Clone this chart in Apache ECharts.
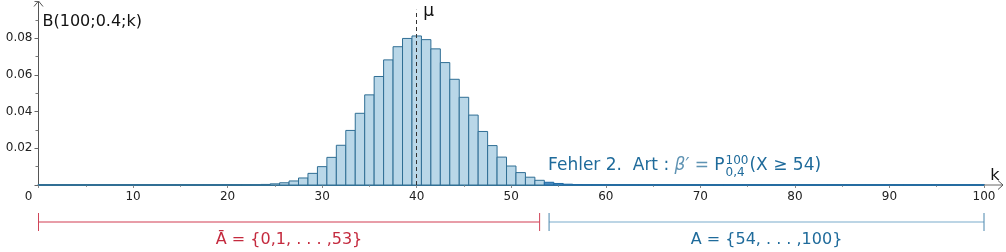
<!DOCTYPE html>
<html>
<head>
<meta charset="utf-8">
<script src="https://cdn.jsdelivr.net/npm/echarts@6/dist/echarts.min.js"></script>
<style>
html,body{margin:0;padding:0;background:#fff;}
#c{width:1006px;height:252px;}
</style>
</head>
<body>
<div id="c"></div>
<script>
// B(100;0.4;k) probabilities, k = 0..100
const probs = [
  0,0,0,0,0,0,0,0,0,0,
  0,0,0,0,0,0,0,0,0,0,
  0.00001,0.00003,0.00006,0.00014,0.00031,0.00063,0.00121,0.00220,0.00383,0.00634,
  0.01000,0.01506,0.02165,0.02974,0.03907,0.04912,0.05913,0.06818,0.07536,0.07987,
  0.08122,0.07922,0.07419,0.06671,0.05761,0.04780,0.03810,0.02918,0.02148,0.01520,
  0.01034,0.00676,0.00425,0.00256,0.00149,0.00083,0.00044,0.00023,0.00011,0.00005,
  0.00002,0,0,0,0,0,0,0,0,0,
  0,0,0,0,0,0,0,0,0,0,
  0,0,0,0,0,0,0,0,0,0,
  0,0,0,0,0,0,0,0,0,0,
  0
];
const xTickStep = 10;
const yTickStep = 0.02;
const yMax = 0.1;
const muValue = 40;
const muLineTop = 0.0955;
const rejectStart = 54;        // A = {54,...,100}
const acceptRange = [0, 53];   // Ā = {0,1,...,53}
const rejectRange = [54, 100];
const yAxisTitle = 'B(100;0.4;k)';
const xAxisTitle = 'k';
const acceptLabel = 'Ā = {0,1, . . . ,53}';
const rejectLabel = 'A = {54, . . . ,100}';

const FONT = 'DejaVu Sans';
const barData = probs.map((p, k) => [k, p]);

const chart = echarts.init(document.getElementById('c'), null, {renderer: 'canvas'});

const option = {
  animation: false,
  backgroundColor: '#ffffff',
  grid: {left: 38.5, right: 22, top: 1.5, bottom: 67, containLabel: false},
  xAxis: {
    type: 'value', min: 0, max: 100, interval: xTickStep,
    axisLine: {show: true, lineStyle: {color: '#3b7597', width: 2}},
    axisTick: {show: true, length: 3, inside: false, lineStyle: {color: '#888'}},
    minorTick: {show: true, splitNumber: 2, length: 2, lineStyle: {color: '#999'}},
    splitLine: {show: false},
    axisLabel: {
      fontFamily: FONT, fontSize: 12, color: '#222', margin: 6,
      formatter: v => (v === 0 ? '' : String(v))
    }
  },
  yAxis: {
    type: 'value', min: 0, max: yMax, interval: yTickStep,
    axisLine: {show: true, lineStyle: {color: '#555', width: 1}},
    axisTick: {show: true, length: 4, lineStyle: {color: '#666'}},
    minorTick: {show: true, splitNumber: 2, length: 3, lineStyle: {color: '#777'}},
    splitLine: {show: false},
    axisLabel: {
      fontFamily: FONT, fontSize: 12, color: '#222', margin: 6,
      formatter: v => (v === 0 || v >= yMax - 1e-9 ? '' : v.toFixed(2))
    }
  },
  series: [
    {
      type: 'custom',
      data: barData,
      clip: false,
      z: 3,
      renderItem: function (params, api) {
        const k = api.value(0), p = api.value(1);
        const x0 = Math.max(k - 0.5, 0), x1 = Math.min(k + 0.5, 100);
        const tl = api.coord([x0, p]);
        const br = api.coord([x1, 0]);
        const rej = k >= rejectStart;
        return {
          type: 'rect',
          shape: {x: tl[0], y: tl[1], width: br[0] - tl[0], height: br[1] - tl[1]},
          style: {
            fill: rej ? '#4a8cc0' : '#b9d7e8',
            stroke: rej ? '#1f6aa5' : '#2f6e94',
            lineWidth: 1
          }
        };
      }
    },
    {
      type: 'line',
      data: [],
      z: 5,
      markLine: {
        silent: true, symbol: 'none',
        label: {show: false},
        lineStyle: {color: '#333', type: [4, 3], width: 1},
        data: [[{coord: [muValue, 0]}, {coord: [muValue, muLineTop]}]]
      }
    }
  ]
};
chart.setOption(option);

function px(x, y) { return chart.convertToPixel({gridIndex: 0}, [x, y]); }
function textWidth(t, font) {
  const el = new echarts.graphic.Text({style: {text: t, font: font}});
  return el.getBoundingRect().width;
}

const o = px(0, 0);
const xEnd = px(100, 0);
const yTop = px(0, yMax);
const g = [];

// axis extension + arrows
g.push({type: 'line', shape: {x1: xEnd[0], y1: o[1], x2: xEnd[0] + 19, y2: o[1]}, style: {stroke: '#666', lineWidth: 1}});
g.push({type: 'polyline', shape: {points: [[xEnd[0] + 14, o[1] - 4.5], [xEnd[0] + 19, o[1]], [xEnd[0] + 14, o[1] + 4.5]]}, style: {stroke: '#555', lineWidth: 1, fill: null}});
g.push({type: 'polyline', shape: {points: [[o[0] - 4.5, yTop[1] + 5], [o[0], yTop[1] - 0.5], [o[0] + 4.5, yTop[1] + 5]]}, style: {stroke: '#555', lineWidth: 1, fill: null}});

// axis titles
g.push({type: 'text', x: o[0] + 4, y: 22, style: {text: yAxisTitle, font: '16px ' + FONT, fill: '#111', verticalAlign: 'middle', align: 'left'}});
g.push({type: 'text', x: xEnd[0] + 11, y: o[1] - 9, style: {text: xAxisTitle, font: '16px ' + FONT, fill: '#111', verticalAlign: 'middle', align: 'center'}});
g.push({type: 'text', x: o[0] - 10, y: o[1] + 12, style: {text: '0', font: '12px ' + FONT, fill: '#222', verticalAlign: 'middle', align: 'center'}});

// mu label
const mu = px(muValue, muLineTop);
g.push({type: 'text', x: mu[0] + 12, y: 12, style: {text: 'μ', font: '17px ' + FONT, fill: '#111', verticalAlign: 'middle', align: 'center'}});

// Fehler 2. Art text
const fStart = px(rejectStart, 0)[0] - 1;
const fy = 166;
const mainFont = '17px ' + FONT;
const smallFont = '12px ' + FONT;
const blue = '#1f6b9b';
const light = '#5f93b3';
let cx = fStart;
const parts = [
  {t: 'Fehler 2.  Art : ', font: mainFont, fill: blue},
  {t: 'β′', font: 'italic ' + mainFont, fill: light},
  {t: ' = ', font: mainFont, fill: light},
  {t: 'P', font: mainFont, fill: blue}
];
parts.forEach(pt => {
  g.push({type: 'text', x: cx, y: fy, style: {text: pt.t, font: pt.font, fill: pt.fill, verticalAlign: 'middle', align: 'left'}});
  cx += textWidth(pt.t, pt.font);
});
cx += 1;
g.push({type: 'text', x: cx, y: fy - 5, style: {text: '100', font: smallFont, fill: blue, verticalAlign: 'middle', align: 'left'}});
g.push({type: 'text', x: cx, y: fy + 7, style: {text: '0,4', font: smallFont, fill: blue, verticalAlign: 'middle', align: 'left'}});
cx += Math.max(textWidth('100', smallFont), textWidth('0,4', smallFont)) + 1;
g.push({type: 'text', x: cx, y: fy, style: {text: '(X ≥ 54)', font: mainFont, fill: blue, verticalAlign: 'middle', align: 'left'}});

// brackets
const by = 222;
function bracket(range, lineColor, tickColor, label, textColor) {
  const a = px(range[0], 0)[0], b = px(range[1], 0)[0];
  g.push({type: 'line', shape: {x1: a, y1: by, x2: b, y2: by}, style: {stroke: lineColor, lineWidth: 1.3}});
  g.push({type: 'line', shape: {x1: a, y1: by - 9, x2: a, y2: by + 9}, style: {stroke: tickColor, lineWidth: 1}});
  g.push({type: 'line', shape: {x1: b, y1: by - 9, x2: b, y2: by + 9}, style: {stroke: tickColor, lineWidth: 1}});
  g.push({type: 'text', x: (a + b) / 2, y: 240, style: {text: label, font: '16px ' + FONT, fill: textColor, verticalAlign: 'middle', align: 'center'}});
}
bracket(acceptRange, '#e07d8b', '#d04458', acceptLabel, '#c42a3e');
bracket(rejectRange, '#a6c7dc', '#4a86ad', rejectLabel, '#1f6b9b');

chart.setOption({graphic: {elements: g}});
</script>
</body>
</html>
